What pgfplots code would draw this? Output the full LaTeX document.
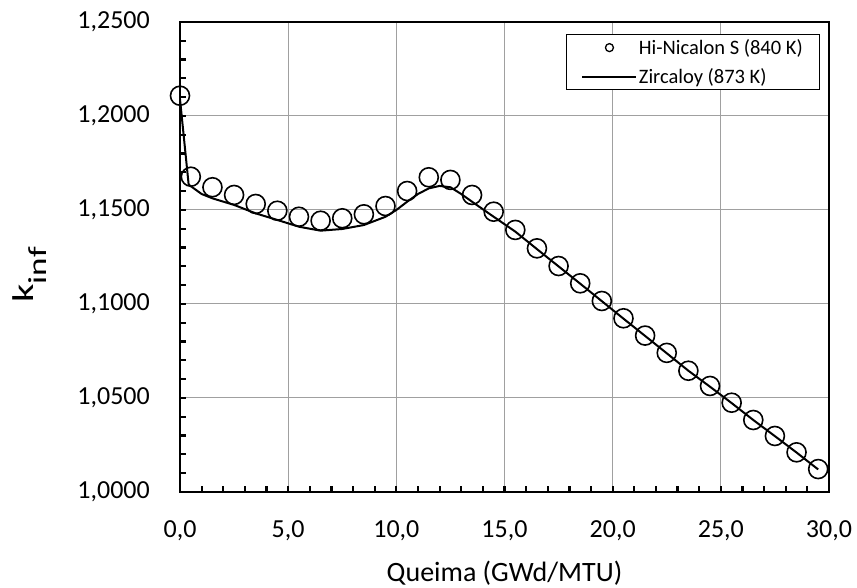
\documentclass[border=0pt]{standalone}
\usepackage{pgfplots}
\pgfplotsset{compat=1.18}
\usepackage{fontspec}
\setmainfont{Carlito}
\definecolor{gridgray}{RGB}{160,160,160}
\begin{document}
\begin{tikzpicture}
\useasboundingbox (-180pt,-96pt) rectangle (677pt,492pt);
\begin{axis}[
  scale only axis,
  width=649pt, height=470pt,
  at={(0,0)}, anchor=south west,
  xmin=0, xmax=30, ymin=1, ymax=1.25,
  xtick={0,5,...,30},
  ytick={1,1.05,1.1,1.15,1.2,1.25},
  minor x tick num=4,
  minor y tick num=4,
  xtick pos=bottom, ytick pos=left,
  tick align=inside,
  major tick length=6pt, minor tick length=6pt,
  tick style={line width=2.2pt, black},
  axis line style={line width=2.6pt},
  grid=major,
  major grid style={gridgray, line width=1pt},
  /pgf/number format/assume math mode=true,
  scaled ticks=false,
  xticklabel style={/pgf/number format/fixed, /pgf/number format/fixed zerofill, /pgf/number format/precision=1, /pgf/number format/use comma, anchor=center, inner sep=1pt, yshift=-39pt},
  yticklabel style={/pgf/number format/fixed, /pgf/number format/fixed zerofill, /pgf/number format/precision=4, /pgf/number format/use comma, anchor=east, inner sep=1pt, xshift=-29pt},
  tick label style={font=\fontsize{26}{30}\selectfont},
  xlabel={Queima (GWd/MTU)},
  xlabel style={font=\fontsize{28}{32}\selectfont, inner sep=0pt, at={(axis description cs:0.5,-0.172)}, anchor=center},
  ylabel={\scalebox{1.35}[1]{\fontsize{30}{34}\selectfont k\raisebox{-13pt}{\fontsize{26}{30}\selectfont inf}}},
  ylabel style={inner sep=0pt, at={(axis description cs:-0.231,0.462)}, anchor=center},
  legend style={at={(axis description cs:0.9861,0.9745)}, anchor=north east,
    draw=black, line width=1.3pt, font=\fontsize{20.5}{24}\selectfont,
    inner xsep=15pt, inner ysep=3.25pt, row sep=9.5pt, nodes={inner sep=1.5pt}, cells={anchor=west}},
  legend cell align=left,
]
\addplot[only marks, mark=o, mark size=9.5pt, mark options={line width=1.6pt, black},
  legend image code/.code={\path[draw=none] (0pt,0pt) -- (54pt,0pt); \draw[line width=1.3pt, black] (27pt,0pt) circle (4pt);}]
coordinates {
(0,1.2108) (0.5,1.1677) (1.5,1.1621) (2.5,1.1580) (3.5,1.1532) (4.5,1.1496)
(5.5,1.1464) (6.5,1.1443) (7.5,1.1456) (8.5,1.1477) (9.5,1.1521) (10.5,1.1601)
(11.5,1.1674) (12.5,1.1660) (13.5,1.1580) (14.5,1.1491) (15.5,1.1394) (16.5,1.1296)
(17.5,1.1202) (18.5,1.1110) (19.5,1.1016) (20.5,1.0924) (21.5,1.0832) (22.5,1.0740)
(23.5,1.0645) (24.5,1.0564) (25.5,1.0475) (26.5,1.0383) (27.5,1.0298) (28.5,1.0211)
(29.5,1.0122)
};
\addlegendentry{Hi-Nicalon S (840 K)}
\addplot[black, line width=2pt,
  legend image code/.code={\draw[line width=2pt, black] (0pt,0pt) -- (54pt,0pt);}]
coordinates {
(0,1.2090) (0.4,1.1635) (1,1.1585) (1.5,1.1562) (2.5,1.1527) (3.5,1.1482)
(4.5,1.1447) (5.5,1.1411) (6.5,1.1390) (7.5,1.1399) (8.5,1.1420) (9.5,1.1464)
(10,1.1500) (10.5,1.1544) (11,1.1585) (11.5,1.1615) (12,1.1628) (12.5,1.1621)
(13,1.1585) (13.5,1.1544) (14.5,1.1464) (15.5,1.1385) (16.5,1.1292) (17.5,1.1200)
(18.5,1.1108) (19.5,1.1015) (20.5,1.0922) (21.5,1.0830) (22.5,1.0738) (23.5,1.0645)
(24.5,1.0560) (25.5,1.0473) (26.5,1.0383) (27.5,1.0297) (28.5,1.0210) (29.5,1.0120)
};
\addlegendentry{Zircaloy (873 K)}
\end{axis}
\end{tikzpicture}
\end{document}
